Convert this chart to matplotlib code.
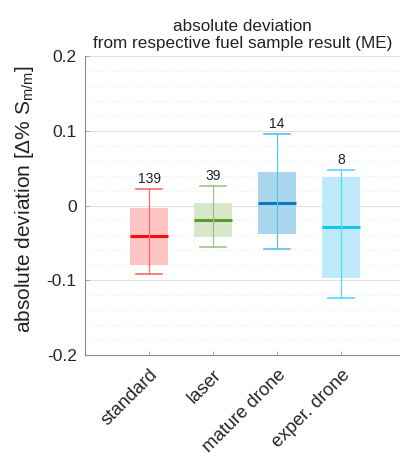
import matplotlib
matplotlib.use("Agg")
import matplotlib.pyplot as plt
import numpy as np

plt.rcParams['font.family'] = ['Liberation Sans', 'DejaVu Sans']
plt.rcParams['mathtext.fontset'] = 'custom'
plt.rcParams['mathtext.rm'] = 'Liberation Sans'
plt.rcParams['mathtext.it'] = 'Liberation Sans'

# data
groups = ['standard', 'laser', 'mature drone', 'exper. drone']
counts = [139, 39, 14, 8]
whis_lo = [-0.091, -0.055, -0.058, -0.124]
q1 = [-0.079, -0.042, -0.038, -0.097]
medians = [-0.041, -0.019, 0.003, -0.029]
q3 = [-0.004, 0.003, 0.045, 0.038]
whis_hi = [0.022, 0.026, 0.095, 0.048]

fills = ['#ffc4c4', '#d9e7cb', '#a9d7ef', '#bfeafa']
med_cols = ['#ff0c0c', '#5c9a22', '#0f7bbd', '#12c6ef']
line_cols = ['#ff6a6a', '#9fc285', '#5cc0e8', '#5ed6f6']

fig = plt.figure(figsize=(4.0, 4.57), dpi=100)
ax = fig.add_axes([85 / 400, 1 - 355 / 457, 315 / 400, 299 / 457])

stats = []
for i in range(len(groups)):
    stats.append({'whislo': whis_lo[i], 'q1': q1[i], 'med': medians[i],
                  'q3': q3[i], 'whishi': whis_hi[i], 'fliers': []})

pos = np.arange(1, len(groups) + 1)
res = ax.bxp(stats, positions=pos, widths=0.6, patch_artist=True,
             showfliers=False, whiskerprops={'linewidth': 0.9},
             capwidths=0.4)

for i in range(len(groups)):
    res['boxes'][i].set_facecolor(fills[i])
    res['boxes'][i].set_edgecolor('none')
    res['medians'][i].set_color(med_cols[i])
    res['medians'][i].set_linewidth(2.2)
    for w in res['whiskers'][2 * i:2 * i + 2]:
        w.set_color(line_cols[i])
    for c in res['caps'][2 * i:2 * i + 2]:
        c.set_color(line_cols[i])
        c.set_linewidth(1.2)
    ax.text(pos[i], whis_hi[i] + 0.004, str(counts[i]), ha='center',
            va='bottom', fontsize=10, color='#222222')

# whisker line runs through the box too
for i in range(len(groups)):
    ax.plot([pos[i], pos[i]], [q1[i], q3[i]], color=line_cols[i],
            linewidth=0.9, zorder=2.5)

ax.set_xlim(0, 4.92)
ax.set_ylim(-0.2, 0.2)
ax.set_yticks([-0.2, -0.1, 0, 0.1, 0.2])
ax.set_yticklabels(['-0.2', '-0.1', '0', '0.1', '0.2'])
ax.set_yticks(np.arange(-0.2, 0.201, 0.02), minor=True)
ax.set_xticks(pos)
ax.set_xticklabels(groups, rotation=45, ha='right', rotation_mode='anchor',
                   fontsize=13.3)
ax.tick_params(axis='both', direction='in', colors='#9a9a9a',
               labelcolor='#262626', length=3, width=0.6)
ax.tick_params(axis='y', labelsize=12.5, pad=6)
ax.tick_params(axis='y', which='minor', length=0)
ax.tick_params(axis='x', pad=8)

ax.grid(True, which='major', axis='y', color='#e2e2e2', linewidth=0.8)
ax.grid(True, which='minor', axis='y', color='#ececec', linewidth=0.6,
        linestyle=':')
ax.set_axisbelow(True)

for s in ['top', 'right']:
    ax.spines[s].set_visible(False)
for s in ['left', 'bottom']:
    ax.spines[s].set_color('#8a8a8a')
    ax.spines[s].set_linewidth(0.8)

ax.set_ylabel(r'absolute deviation [$\Delta$% S$_{\mathrm{m/m}}$]',
              fontsize=15, color='#222222')
ax.yaxis.set_label_coords(-0.155, 0.52)
ax.set_title('absolute deviation\nfrom respective fuel sample result (ME)',
             fontsize=12.3, color='#222222', pad=6, linespacing=1.15)

fig.savefig('out.png', dpi=100)
